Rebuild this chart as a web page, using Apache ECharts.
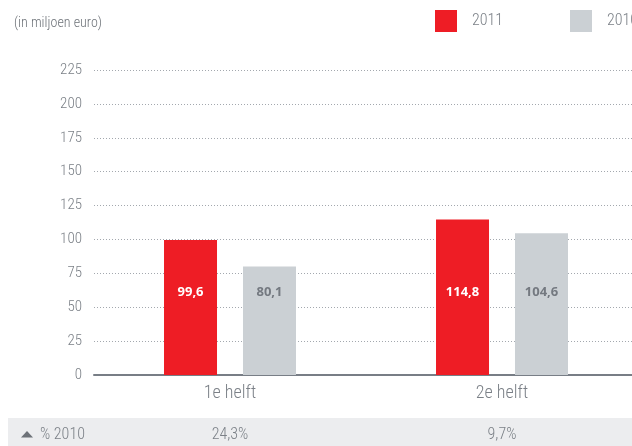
<!DOCTYPE html>
<html><head><meta charset="utf-8">
<script src="https://cdn.jsdelivr.net/npm/echarts@6/dist/echarts.min.js"></script>
<style>html,body{margin:0;padding:0;background:#fff}#c{width:632px;height:446px}</style>
</head><body><div id="c"></div>
<script>
const categories = ['1e helft', '2e helft'];
const values2011 = [99.6, 114.8];
const values2010 = [80.1, 104.6];
const pctChange = ['24,3%', '9,7%'];
const seriesNames = ['2011', '2010'];
const unitLabel = '(in miljoen euro)';
const changeLabel = '% 2010';

const FONT = 'Roboto, "Open Sans", sans-serif';
const COND = 'condensed';
const W = 300;
const TXT = '#7b8087';
const fmt = v => v.toFixed(1).replace('.', ',');
const chart = echarts.init(document.getElementById('c'));
const labelCommon = {show: true, position: 'insideBottom', distance: 76, fontFamily: '"Open Sans", "Noto Sans", sans-serif', fontWeight: 'bold', fontSize: 13, formatter: p => fmt(p.value)};
const legendBase = {top: 5, itemWidth: 22, itemHeight: 22, icon: 'rect', orient: 'horizontal',
  textStyle: {fontFamily: FONT, fontStyle: COND, fontWeight: W, fontSize: 16, color: TXT, padding: [0, 0, 0, 10]}};
chart.setOption({
  animation: false,
  title: {text: unitLabel, left: 9, top: 11, textStyle: {fontFamily: FONT, fontStyle: COND, fontSize: 14, fontWeight: 350, color: '#6d7278'}},
  legend: [
    Object.assign({left: 430, data: [seriesNames[0]]}, legendBase),
    Object.assign({left: 565, data: [seriesNames[1]]}, legendBase)
  ],
  grid: {left: 94, top: 70, bottom: 71, right: -6, containLabel: false, outerBoundsMode: 'none'},
  xAxis: {type: 'category', data: categories,
    axisLine: {lineStyle: {color: '#787e86', width: 2}}, axisTick: {show: false},
    axisLabel: {margin: 9, fontFamily: FONT, fontStyle: COND, fontWeight: W, fontSize: 18, color: TXT}},
  yAxis: {type: 'value', min: 0, max: 225, interval: 25,
    axisLine: {show: false}, axisTick: {show: false},
    axisLabel: {margin: 12, fontFamily: FONT, fontStyle: COND, fontWeight: W, fontSize: 15, color: TXT},
    splitLine: {lineStyle: {type: [1, 2], color: '#a3a8ae', width: 1}}},
  series: [
    {name: seriesNames[0], type: 'bar', data: values2011, barWidth: 53, barGap: '49%',
      itemStyle: {color: '#ee1d25'}, label: Object.assign({color: '#ffffff'}, labelCommon)},
    {name: seriesNames[1], type: 'bar', data: values2010, barWidth: 53,
      itemStyle: {color: '#cbd0d4'}, label: Object.assign({color: '#747980'}, labelCommon)}
  ]
});
const bandY = 418, bandH = 28, midY = 435;
const g = [
  {type: 'rect', shape: {x: 8, y: bandY, width: 624, height: bandH}, style: {fill: '#ecedef'}, z: -1},
  {type: 'polygon', shape: {points: [[21, 437.5], [33, 437.5], [27, 431]]}, style: {fill: '#6d7278'}},
  {type: 'text', x: 40, y: midY, style: {text: changeLabel, fontFamily: FONT, fontStyle: COND, fontWeight: W, fontSize: 16, fill: TXT, verticalAlign: 'middle', align: 'left'}}
];
categories.forEach((c, i) => {
  const x = chart.convertToPixel({xAxisIndex: 0}, c);
  g.push({type: 'text', x: x, y: midY, style: {text: pctChange[i], fontFamily: FONT, fontStyle: COND, fontWeight: W, fontSize: 16, fill: TXT, align: 'center', verticalAlign: 'middle'}});
});
chart.setOption({graphic: g});
</script></body></html>
